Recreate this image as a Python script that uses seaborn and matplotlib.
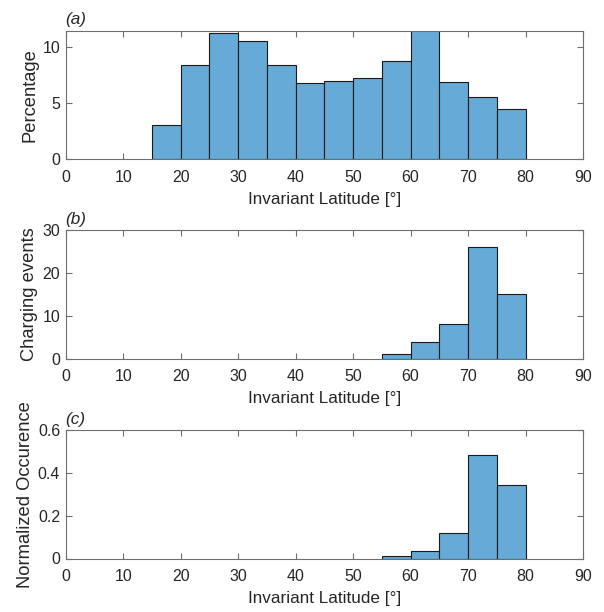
import matplotlib
matplotlib.use("Agg")
import matplotlib.pyplot as plt
import seaborn as sns

# Data (bin left edges, 5-degree bins)
bins_a = [15, 20, 25, 30, 35, 40, 45, 50, 55, 60, 65, 70, 75]
percentage = [3.0, 8.34, 11.18, 10.53, 8.40, 6.80, 6.98, 7.25, 8.76, 11.6, 6.89, 5.53, 4.50]

bins_b = [55, 60, 65, 70, 75]
charging_events = [1, 4, 8, 26, 15]
normalized_occurrence = [0.011, 0.034, 0.12, 0.484, 0.344]

xticks = [0, 10, 20, 30, 40, 50, 60, 70, 80, 90]
bin_width = 5

sns.set_theme(style="white")
plt.rcParams['font.family'] = ['Liberation Sans', 'DejaVu Sans']

fig = plt.figure(figsize=(6.04, 6.12), dpi=100)

bar_color = (0.4, 0.668, 0.845)
axis_color = '#6e6e6e'
text_color = '#262626'
fs_tick = 11.5
fs_xlabel = 12.3
fs_ylabel = 13.2

L, W, H = 65.7 / 604, 517.3 / 604, 128.5 / 612
panels = [
    dict(bins=bins_a, vals=percentage, ylabel='Percentage', label='(a)',
         ylim=(0, 11.42), yticks=[0, 5, 10], rect=[L, 1 - 159.2 / 612, W, H]),
    dict(bins=bins_b, vals=charging_events, ylabel='Charging events', label='(b)',
         ylim=(0, 30), yticks=[0, 10, 20, 30], rect=[L, 1 - 358.7 / 612, W, H]),
    dict(bins=bins_b, vals=normalized_occurrence, ylabel='Normalized Occurence', label='(c)',
         ylim=(0, 0.6), yticks=[0, 0.2, 0.4, 0.6], rect=[L, 1 - 558.5 / 612, W, H]),
]

for p in panels:
    ax = fig.add_axes(p['rect'])
    centers = [b + bin_width / 2 for b in p['bins']]
    edges = list(p['bins']) + [p['bins'][-1] + bin_width]
    sns.histplot(x=centers, weights=p['vals'], bins=edges, ax=ax,
                 color=bar_color, alpha=1.0, edgecolor='#1a1a1a', linewidth=0.8)
    ax.set_xlim(0, 90)
    ax.set_ylim(*p['ylim'])
    ax.set_xticks(xticks)
    ax.set_xticklabels([str(t) for t in xticks])
    ax.set_yticks(p['yticks'])
    ax.set_yticklabels([f'{v:g}' for v in p['yticks']])
    ax.tick_params(direction='in', length=4.5, width=0.8, color=axis_color,
                   labelsize=fs_tick, labelcolor=text_color, top=True, right=True,
                   bottom=True, left=True)
    ax.tick_params(axis='x', pad=7.5)
    ax.tick_params(axis='y', pad=4)
    for s in ax.spines.values():
        s.set_visible(True)
        s.set_color(axis_color)
        s.set_linewidth(0.8)
    ax.set_xlabel('Invariant Latitude [°]', fontsize=fs_xlabel, color=text_color, labelpad=5)
    ax.set_ylabel(p['ylabel'], fontsize=fs_ylabel, color=text_color, labelpad=3)
    ax.text(0.0, 1.025, p['label'], transform=ax.transAxes, fontsize=fs_xlabel,
            style='italic', color=text_color, ha='left', va='bottom')
    ax.grid(False)

fig.savefig('out.png', dpi=100, facecolor='white')
